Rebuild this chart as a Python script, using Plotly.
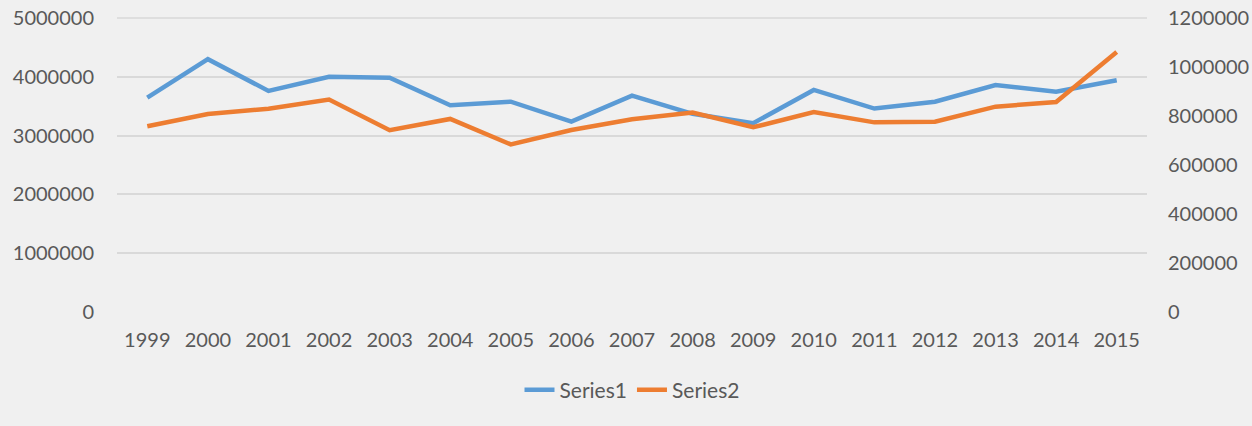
import plotly.graph_objects as go

years = [str(y) for y in range(1999, 2016)]
series1 = [3645000, 4300000, 3760000, 4000000, 3985000, 3515000, 3577000, 3237000, 3680000,
           3370000, 3210000, 3776000, 3460000, 3577000, 3860000, 3747000, 3940000]
series2 = [758000, 808000, 830000, 867000, 742000, 788000, 684000, 743000, 787000,
           814000, 754000, 816000, 774000, 777000, 838000, 857000, 1061000]

left_ticks = [0, 1000000, 2000000, 3000000, 4000000, 5000000]
right_ticks = [0, 200000, 400000, 600000, 800000, 1000000, 1200000]

FONT = "Lato"
GRAY = "#595959"
GRID = "#d9d9d9"
FS = 20

fig = go.Figure()
fig.add_trace(go.Scatter(x=years, y=series1, name="Series1", mode="lines",
                         line=dict(color="#5b9bd5", width=4.5), yaxis="y"))
fig.add_trace(go.Scatter(x=years, y=series2, name="Series2", mode="lines",
                         line=dict(color="#ed7d31", width=4.5), yaxis="y2"))

# make sure the top gridline is drawn
fig.add_hline(y=left_ticks[-1], line=dict(color=GRID, width=1.5), layer="below")

fig.update_layout(
    width=1252, height=426,
    paper_bgcolor="#f0f0f0", plot_bgcolor="#f0f0f0",
    margin=dict(l=117, r=105, t=17, b=114),
    font=dict(family=FONT, size=FS, color=GRAY),
    xaxis=dict(type="category", range=[-0.5, 16.5], showgrid=False, showline=False,
               zeroline=False, ticks="", ticklabelstandoff=14, automargin=False,
               tickfont=dict(family=FONT, size=FS, color=GRAY)),
    yaxis=dict(range=[0, 5017000], tickvals=left_ticks, ticktext=[str(v) for v in left_ticks],
               showgrid=True, gridcolor=GRID, gridwidth=1.5, zeroline=False,
               showline=False, ticklabelstandoff=22, automargin=False,
               tickfont=dict(family=FONT, size=FS, color=GRAY)),
    yaxis2=dict(range=[0, 1204080], tickvals=right_ticks, ticktext=[str(v) for v in right_ticks],
                overlaying="y", side="right", showgrid=False, zeroline=False,
                showline=False, ticklabelstandoff=20, automargin=False,
                tickfont=dict(family=FONT, size=FS, color=GRAY)),
    legend=dict(orientation="h", x=0.5, xanchor="center", y=-0.265, yanchor="middle",
                font=dict(family=FONT, size=21, color=GRAY), bgcolor="rgba(0,0,0,0)"),
    showlegend=True,
)

fig.write_html("out.html", config={"displayModeBar": False},
               post_script="document.body.style.margin='0';")
